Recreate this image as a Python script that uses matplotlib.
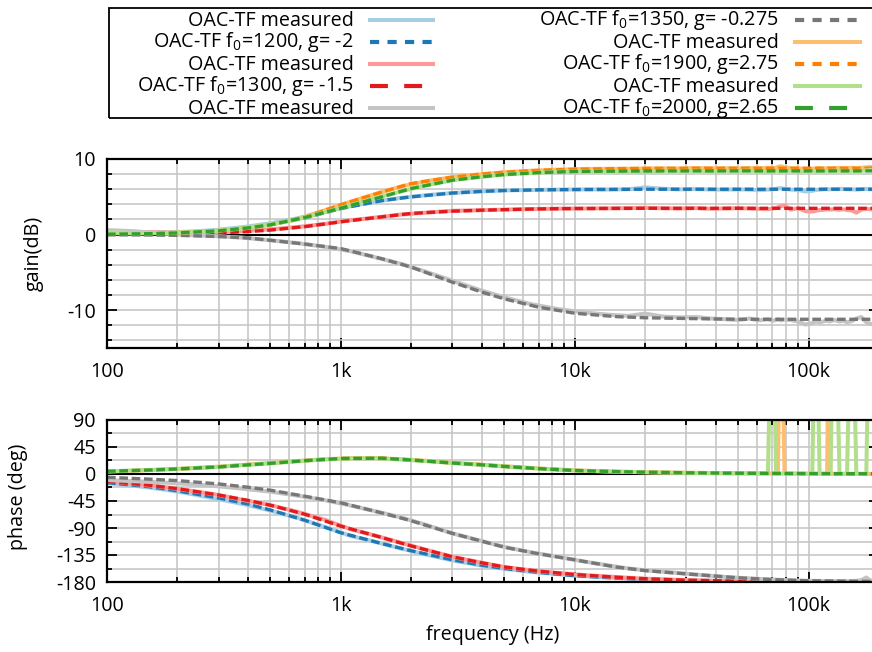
import matplotlib
matplotlib.use("Agg")
import matplotlib.pyplot as plt
from matplotlib.lines import Line2D
from matplotlib.patches import Rectangle
from matplotlib.ticker import FixedLocator, FixedFormatter, NullFormatter

# ---------------- data ----------------
# frequency grid of the fitted OAC transfer functions (Hz)
f_fit = [100, 150, 200, 300, 400, 500, 700, 1000, 1500, 2000, 3000, 4000, 5000,
         7000, 10000, 15000, 20000, 30000, 50000, 70000, 100000, 150000, 200000]

# frequency grid of the measurements (Hz)
f_meas = [100, 130, 170, 220, 290, 380, 500, 650, 850, 1100, 1400, 1800, 2300,
          3000, 3900, 5000, 6500, 8500, 11000, 14000, 17000, 20000, 24000, 28000,
          33000, 38000, 44000, 50000, 56000, 61000, 67000, 70000, 72600, 73900,
          76000, 78900, 84000, 90000, 97000, 103700, 107500, 111400, 117000,
          120000, 122500, 124000, 129000, 135600, 141000, 146000, 153000, 160000,
          168000, 176500, 183000, 190000]

# fitted gain (dB)
gain_fit_blue = [0.05, 0.12, 0.22, 0.5, 0.88, 1.3, 2.2, 3.45, 4.5, 5.0, 5.5, 5.72, 5.83,
                 5.92, 5.96, 5.98, 6.0, 6.0, 6.0, 6.0, 6.0, 6.0, 6.0]
gain_fit_red = [0.02, 0.05, 0.1, 0.22, 0.4, 0.6, 1.05, 1.7, 2.35, 2.8, 3.1, 3.23, 3.3,
                3.4, 3.45, 3.47, 3.48, 3.48, 3.48, 3.48, 3.48, 3.48, 3.48]
gain_fit_grey = [-0.02, -0.05, -0.1, -0.25, -0.45, -0.75, -1.25, -1.85, -3.2, -4.3, -6.3,
                 -7.6, -8.5, -9.6, -10.4, -10.85, -11.0, -11.1, -11.2, -11.2, -11.2, -11.2, -11.2]
gain_fit_orange = [0.05, 0.12, 0.22, 0.5, 0.88, 1.3, 2.3, 3.95, 5.65, 6.75, 7.6, 8.0, 8.25,
                   8.5, 8.65, 8.72, 8.75, 8.77, 8.78, 8.78, 8.78, 8.78, 8.78]
gain_fit_green = [0.05, 0.12, 0.22, 0.5, 0.88, 1.3, 2.25, 3.5, 5.0, 6.1, 7.2, 7.65, 7.95,
                  8.2, 8.35, 8.4, 8.42, 8.43, 8.43, 8.43, 8.43, 8.43, 8.43]

# fitted phase (deg)
phase_fit_blue = [-14.5, -21, -28, -40, -50, -60, -77, -98, -116, -128, -143, -152, -157.5,
                  -164, -169.5, -173.5, -175.5, -177.5, -178.5, -179, -179.5, -179.7, -179.8]
phase_fit_red = [-12.5, -18.5, -24.5, -35, -44, -52, -67, -87, -106, -120, -138, -148, -155,
                 -162, -167.5, -172, -174.5, -177, -178.5, -179, -179.5, -179.7, -179.8]
phase_fit_grey = [-5.5, -8.5, -11, -16.5, -22, -27, -37, -48, -65, -78, -99, -112, -122,
                  -133, -143, -155, -161, -166.5, -173, -176, -178, -178.7, -179.2]
phase_fit_orange = [4.5, 6.5, 8.5, 12, 15.5, 18, 22.5, 26, 26.5, 23.5, 18.5, 15.5, 12.8,
                    9.2, 6, 4, 3, 2, 1.3, 1.0, 0.7, 0.5, 0.4]
phase_fit_green = [4.5, 6.5, 8.4, 11.8, 15.2, 17.8, 22.2, 25.8, 26.3, 23.3, 18.3, 15.3, 12.6,
                   9, 5.8, 4, 3, 2, 1.3, 1.0, 0.7, 0.5, 0.4]

# measured gain (dB)
gain_meas_blue = [0.35, 0.25, 0.3, 0.38, 0.6, 0.98, 1.5, 2.15, 3.0, 3.75, 4.35, 4.85, 5.2,
                  5.5, 5.7, 5.85, 5.9, 5.95, 5.98, 5.97, 6.0, 6.25, 6.05, 5.98, 6.02, 5.97,
                  5.95, 5.98, 5.95, 5.88, 5.95, 6.0, 6.05, 6.1, 6.15, 6.05, 5.95, 5.9, 5.7,
                  5.8, 5.9, 5.95, 6.0, 6.02, 5.98, 6.0, 6.03, 6.05, 6.02, 6.0, 5.98, 5.95,
                  6.0, 6.05, 6.0, 5.98]
gain_meas_red = [0.4, 0.35, 0.3, 0.22, 0.3, 0.45, 0.7, 1.0, 1.4, 1.9, 2.25, 2.65, 2.9,
                 3.15, 3.22, 3.3, 3.38, 3.43, 3.45, 3.47, 3.5, 3.55, 3.48, 3.45, 3.5, 3.42,
                 3.45, 3.5, 3.44, 3.4, 3.35, 3.45, 3.5, 3.6, 3.75, 3.85, 3.3, 3.5, 3.1,
                 3.05, 3.15, 3.25, 3.3, 3.35, 3.3, 3.32, 3.35, 3.3, 3.35, 3.25, 3.2, 2.9,
                 3.3, 3.4, 3.35, 3.3]
gain_meas_grey = [0.6, 0.45, 0.15, -0.05, -0.2, -0.4, -0.75, -1.12, -1.6, -2.2, -3.0, -3.85,
                  -4.9, -6.1, -7.3, -8.3, -9.2, -9.85, -10.3, -10.6, -10.75, -10.45, -10.85,
                  -10.95, -10.9, -11.1, -11.2, -11.3, -11.1, -11.35, -11.2, -11.4, -11.3,
                  -11.2, -11.35, -11.25, -11.3, -11.5, -11.9, -11.7, -11.5, -11.6, -11.45,
                  -11.4, -11.5, -11.45, -11.3, -11.5, -11.4, -11.6, -11.45, -11.1, -10.9,
                  -11.6, -11.8, -11.9]
gain_meas_orange = [0.2, 0.15, 0.2, 0.28, 0.5, 0.8, 1.3, 2.05, 3.2, 4.35, 5.35, 6.35, 7.05,
                    7.6, 7.97, 8.25, 8.45, 8.6, 8.68, 8.7, 8.72, 8.75, 8.78, 8.74, 8.8, 8.76,
                    8.78, 8.75, 8.8, 8.77, 8.82, 8.8, 8.85, 8.95, 9.05, 8.9, 8.78, 8.75, 8.7,
                    8.72, 8.75, 8.78, 8.76, 8.8, 8.78, 8.75, 8.8, 8.82, 8.78, 8.8, 8.84, 8.8,
                    8.85, 8.9, 8.95, 8.9]
gain_meas_green = [0.3, 0.2, 0.22, 0.3, 0.5, 0.85, 1.35, 2.0, 2.95, 3.9, 4.8, 5.7, 6.5,
                   7.2, 7.62, 7.95, 8.15, 8.3, 8.36, 8.38, 8.35, 8.3, 8.45, 8.42, 8.45, 8.4,
                   8.44, 8.43, 8.46, 8.4, 8.3, 8.38, 8.44, 8.45, 8.4, 8.42, 8.45, 8.4, 8.42,
                   8.45, 8.4, 8.44, 8.42, 8.45, 8.43, 8.44, 8.46, 8.45, 8.43, 8.42, 8.45, 8.4,
                   8.45, 8.5, 8.55, 8.5]

# measured phase (deg); values near 360 are wrapped samples
phase_meas_blue = [-15, -19.5, -25, -32, -41, -50, -61, -73, -88, -103, -113, -124, -134,
                   -144, -152, -158, -163, -167, -170.5, -172.5, -174.5, -175.5, -176.5,
                   -177, -177.7, -178, -178.3, -178.5, -178.7, -178.8, -179, -179, -179,
                   -179, -179.2, -179.2, -179.3, -179.4, -179.5, -179.5, -179.5, -179.5,
                   -179.6, -179.6, -179.6, -179.6, -179.7, -179.7, -179.7, -179.7, -179.7,
                   -179.8, -179.8, -179.8, -179.8, -179.8]
phase_meas_red = [-12, -16.5, -21, -27, -34, -43, -52, -63, -76, -92, -102.5, -114.5, -126,
                  -138, -147, -155, -160.5, -165, -168.5, -171, -173, -174.5, -175.5,
                  -176.5, -177.3, -177.8, -178.2, -178.5, -178.7, -178.8, -179, -179, -179,
                  -179, -179.2, -179.2, -179.3, -179.4, -179.5, -179.5, -179.5, -179.5,
                  -179.6, -179.6, -179.6, -179.6, -179.7, -179.7, -179.7, -179.7, -179.7,
                  -179.8, -179.8, -179.8, -179.8, -179.8]
phase_meas_grey = [-10, -12, -14, -16.5, -20, -24.5, -29.5, -36, -43.5, -52.5, -62, -72,
                   -84.5, -99, -110.5, -121.5, -130.5, -138, -146, -152.5, -157.5, -160.5,
                   -163, -165, -167.5, -169.5, -171.5, -173, -174, -174.8, -175.5, -176,
                   -176, -176.5, -176.5, -176.8, -177, -177.5, -178, -178, -178.2, -178.3,
                   -178.3, -178.4, -178.4, -178.5, -178.5, -178.5, -178.6, -178.6, -178.6,
                   -178, -177, -172.5, -177, -178]
phase_meas_orange = [4.0, 5.5, 7.2, 9.2, 11.8, 15.0, 18.2, 21.6, 24.6, 26.3, 26.5, 24.6,
                     22.0, 18.6, 15.8, 12.9, 10.0, 7.4, 5.4, 4.3, 3.6, 3.0, 2.6, 2.2, 1.9,
                     1.7, 1.5, 1.3, 1.2, 1.1, 1.0, 1.0, 0.9, 0.8, 358, 0.8, 0.7, 0.7, 0.6,
                     0.6, 0.6, 0.5, 0.5, 0.5, 359, 0.5, 0.4, 0.4, 0.4, 0.4, 0.4, 0.3, 0.3,
                     0.3, 0.3, 0.3]
phase_meas_green = [4.5, 5.8, 7.4, 9.3, 11.6, 14.8, 17.8, 21.3, 24.3, 26.0, 26.2, 24.3,
                    21.6, 18.3, 15.5, 12.6, 9.8, 7.2, 5.3, 4.2, 3.5, 2.9, 2.4, 2.1, 1.8,
                    1.5, 1.3, 1.1, 1.0, 0.9, 0.8, 358, 0.7, 0.7, 0.6, 0.6, 0.5, 0.5, 0.4,
                    0.4, 359, 0.3, 0.3, 0.3, 0.3, 0.3, 359, 0.2, 0.2, 0.2, 359, 0.2, 0.2,
                    0.2, 359, 359]

labels_fit = ["OAC-TF f$_\\mathregular{0}$=1200, g= -2",
              "OAC-TF f$_\\mathregular{0}$=1300, g= -1.5",
              "OAC-TF f$_\\mathregular{0}$=1350, g= -0.275",
              "OAC-TF f$_\\mathregular{0}$=1900, g=2.75",
              "OAC-TF f$_\\mathregular{0}$=2000, g=2.65"]
label_meas = "OAC-TF measured"

x_ticks = [100, 1000, 10000, 100000]
x_ticklabels = ["100", "1k", "10k", "100k"]

# ---------------- style ----------------
FONT = "Open Sans"
plt.rcParams['font.family'] = [FONT, 'DejaVu Sans']
plt.rcParams['mathtext.fontset'] = 'custom'
plt.rcParams['mathtext.rm'] = FONT
plt.rcParams['axes.unicode_minus'] = False
FS = 14.2
plt.rcParams['font.size'] = FS

meas_colors = ['#a6cee3', '#fb9a99', '#c4c4c4', '#fdbf6f', '#b2df8a']
fit_colors = ['#1f78b4', '#e31a1c', '#777777', '#ff7f00', '#33a02c']
MEAS_LW = 2.9
FIT_LW = 2.4
PLOT_DASH = (0, (2.6, 1.1))
GRID_C = '#c4c4c4'

W, H = 872, 652
fig = plt.figure(figsize=(W / 100, H / 100), dpi=100)


def box(l, t, r, b):
    return [l / W, 1 - b / H, (r - l) / W, (b - t) / H]


ax_g = fig.add_axes(box(107, 159, 879, 348))
ax_p = fig.add_axes(box(107, 420, 879, 582))

gain_meas = [gain_meas_blue, gain_meas_red, gain_meas_grey, gain_meas_orange, gain_meas_green]
gain_fit = [gain_fit_blue, gain_fit_red, gain_fit_grey, gain_fit_orange, gain_fit_green]
phase_meas = [phase_meas_blue, phase_meas_red, phase_meas_grey, phase_meas_orange, phase_meas_green]
phase_fit = [phase_fit_blue, phase_fit_red, phase_fit_grey, phase_fit_orange, phase_fit_green]

for ax, meas, fit in ((ax_g, gain_meas, gain_fit), (ax_p, phase_meas, phase_fit)):
    for i in range(5):
        ax.plot(f_meas, meas[i], color=meas_colors[i], lw=MEAS_LW, solid_joinstyle='round',
                zorder=3 + 2 * i)
        ax.plot(f_fit, fit[i], color=fit_colors[i], lw=FIT_LW, linestyle=PLOT_DASH,
                zorder=4 + 2 * i)
    ax.set_xscale('log')
    ax.set_xlim(100, 2e5)
    ax.axhline(0, color='black', lw=1.5, zorder=2)
    ax.set_axisbelow(True)
    ax.xaxis.set_major_locator(FixedLocator(x_ticks))
    ax.xaxis.set_major_formatter(FixedFormatter(x_ticklabels))
    ax.xaxis.set_minor_locator(FixedLocator([m * d for d in (100, 1000, 10000, 100000)
                                             for m in range(2, 10)]))
    ax.xaxis.set_minor_formatter(NullFormatter())
    ax.grid(which='both', color=GRID_C, lw=1.1)
    ax.tick_params(which='both', direction='in', top=True, right=True, width=1.3,
                   labelsize=FS)
    ax.tick_params(axis='x', which='both', pad=10)
    ax.tick_params(axis='y', which='both', pad=8)
    ax.tick_params(which='major', length=7)
    ax.tick_params(which='minor', length=3.5)
    for s in ax.spines.values():
        s.set_linewidth(1.6)
        s.set_zorder(20)

ax_g.set_ylim(-15, 10)
ax_g.set_yticks([-10, 0, 10])
ax_g.set_yticks(list(range(-14, 10, 2)), minor=True)
ax_p.set_ylim(-180, 90)
ax_p.set_yticks([-180, -135, -90, -45, 0, 45, 90])
ax_p.set_yticks([-157.5, -112.5, -67.5, -22.5, 22.5, 67.5], minor=True)

fig.text(34 / W, 1 - 253 / H, "gain(dB)", rotation=90, ha='center', va='center', fontsize=FS)
fig.text(18 / W, 1 - 497 / H, "phase (deg)", rotation=90, ha='center', va='center', fontsize=FS)
fig.text(493 / W, 1 - 635 / H, "frequency (Hz)", ha='center', va='center', fontsize=FS)

# ---------------- key ----------------
fig.add_artist(Rectangle((109 / W, 1 - 118 / H), 800 / W, 110 / H, transform=fig.transFigure,
                         fill=False, edgecolor='black', lw=1.3, clip_on=False))

short_dash = (0, (2.2, 2.0))
long_dash = (0, (4.3, 3.9))
entries = [
    (label_meas, meas_colors[0], '-', MEAS_LW),
    (labels_fit[0], fit_colors[0], short_dash, 3.0),
    (label_meas, meas_colors[1], '-', MEAS_LW),
    (labels_fit[1], fit_colors[1], long_dash, 3.0),
    (label_meas, meas_colors[2], '-', MEAS_LW),
    (labels_fit[2], fit_colors[2], short_dash, 3.0),
    (label_meas, meas_colors[3], '-', MEAS_LW),
    (labels_fit[3], fit_colors[3], short_dash, 3.0),
    (label_meas, meas_colors[4], '-', MEAS_LW),
    (labels_fit[4], fit_colors[4], long_dash, 3.0),
]
rows = [19.5, 41.5, 63.5, 85.5, 107.5]
cols = [(354, 370, 433), (779, 795, 860)]
for k, (lab, col, ls, lw) in enumerate(entries):
    c, r = divmod(k, 5)
    tx, x0, x1 = cols[c]
    y = rows[r]
    fig.text(tx / W, 1 - (y + 6) / H, lab, ha='right', va='baseline', fontsize=FS)
    fig.add_artist(Line2D([x0 / W, x1 / W], [1 - y / H, 1 - y / H], transform=fig.transFigure,
                          color=col, lw=lw, linestyle=ls))

fig.savefig("out.png", dpi=100)
